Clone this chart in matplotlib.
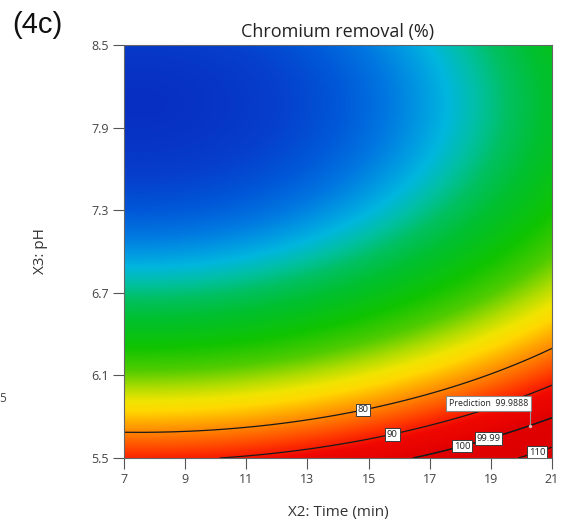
import numpy as np
import matplotlib.pyplot as plt
from matplotlib.colors import LinearSegmentedColormap, Normalize

plt.rcParams['font.family'] = ['Open Sans', 'DejaVu Sans']

# factor ranges
time_range = (7, 21)
ph_range = (5.5, 8.5)

# quadratic response surface: removal = floor + bt*(t - t_opt)^2 + bp*(pH - ph_opt)^2
z_floor = 24.14
b_time2 = 0.1357
t_opt = 7.47
b_ph2 = 9.75
ph_opt = 8.08

x_ticks = [7, 9, 11, 13, 15, 17, 19, 21]
y_ticks = [5.5, 6.1, 6.7, 7.3, 7.9, 8.5]

contour_levels = [80, 90, 100, 110]
contour_label_pos = [(14.8, 5.87), (15.75, 5.70), (18.03, 5.616), (20.45, 5.58)]

pred_time = 20.28
pred_ph = 5.73
pred_value = 99.9888
pred_label_pos = [(18.88, 5.674)]

# colour ramp (response value -> colour)
ramp_values = [24, 27, 30, 33, 35.5, 38, 41, 44, 48, 55, 61, 66, 70, 73, 77, 82, 87, 92, 100, 115]
ramp_colors = ['#0830c2', '#0640cc', '#0058d8', '#0076e0', '#0096e2', '#00b6de',
               '#00c0a0', '#00c060', '#00c030', '#10c400', '#50cc00', '#b0dc00',
               '#f0e400', '#ffd800', '#ffa800', '#ff7000', '#ff3800', '#f00800',
               '#e00000', '#dc0000']

vmin, vmax = ramp_values[0], ramp_values[-1]
stops = [(v - vmin) / (vmax - vmin) for v in ramp_values]
cmap = LinearSegmentedColormap.from_list('removal', list(zip(stops, ramp_colors)), N=1024)
norm = Normalize(vmin, vmax)

t = np.linspace(time_range[0], time_range[1], 500)
ph = np.linspace(ph_range[0], ph_range[1], 500)
T, P = np.meshgrid(t, ph)
Z = z_floor + b_time2 * (T - t_opt) ** 2 + b_ph2 * (P - ph_opt) ** 2

fig = plt.figure(figsize=(5.66, 5.26), dpi=100)
ax = fig.add_axes([124 / 566, 68 / 526, 428 / 566, 413 / 526])

ax.imshow(Z, extent=[*time_range, *ph_range], origin='lower', aspect='auto',
          cmap=cmap, norm=norm, interpolation='bilinear')

cs = ax.contour(T, P, Z, levels=contour_levels, colors='#1a1a1a', linewidths=0.9)
cs_pred = ax.contour(T, P, Z, levels=[pred_value], colors='#1a1a1a', linewidths=0.9)

box = dict(boxstyle='square,pad=0.2', fc='white', ec='#3a3a3a', lw=0.7)
labels = list(ax.clabel(cs, fmt='%d', manual=contour_label_pos, inline=False, fontsize=6.8))
labels += list(ax.clabel(cs_pred, fmt='%.2f', manual=pred_label_pos, inline=False, fontsize=6.8))
for lb in labels:
    lb.set_rotation(0)
    lb.set_color('#222222')
    lb.set_bbox(box)

# prediction flag
ax.plot([pred_time, pred_time], [pred_ph, 5.85], color='#9a9a9a', lw=0.8)
ax.plot(pred_time, pred_ph, 'o', ms=2.5, color='#e8b0b0', mec='none')
ax.text(20.22, 5.896, 'Prediction  %.4f' % pred_value, ha='right', va='center',
        fontsize=6.3, color='#222222',
        bbox=dict(boxstyle='square,pad=0.3', fc='white', ec='#8a8a8a', lw=0.8))

ax.set_xlim(*time_range)
ax.set_ylim(*ph_range)
ax.set_xticks(x_ticks)
ax.set_yticks(y_ticks)
ax.set_yticklabels(['%.1f' % v for v in y_ticks])
ax.tick_params(length=8, width=0.8, color='#555555', labelcolor='#444444',
               labelsize=9, pad=3)
for sp in ax.spines.values():
    sp.set_color('#666666')
    sp.set_linewidth(0.8)

ax.set_title('Chromium removal (%)', fontsize=13, color='#222222', pad=6)
ax.set_xlabel('X2: Time (min)', fontsize=11, color='#333333')
ax.set_ylabel('X3: pH', fontsize=11, color='#333333')
ax.xaxis.set_label_coords(0.5, -0.115)
ax.yaxis.set_label_coords(-0.178, 0.5)

fig.text(12 / 566, 1 - 25 / 526, '(4c)', fontsize=21, family='Liberation Sans',
         ha='left', va='center', color='#111111')
fig.text(-1 / 566, 1 - 398 / 526, '5', fontsize=8.5, color='#444444', ha='left', va='center')

fig.savefig('out.png', dpi=100)
